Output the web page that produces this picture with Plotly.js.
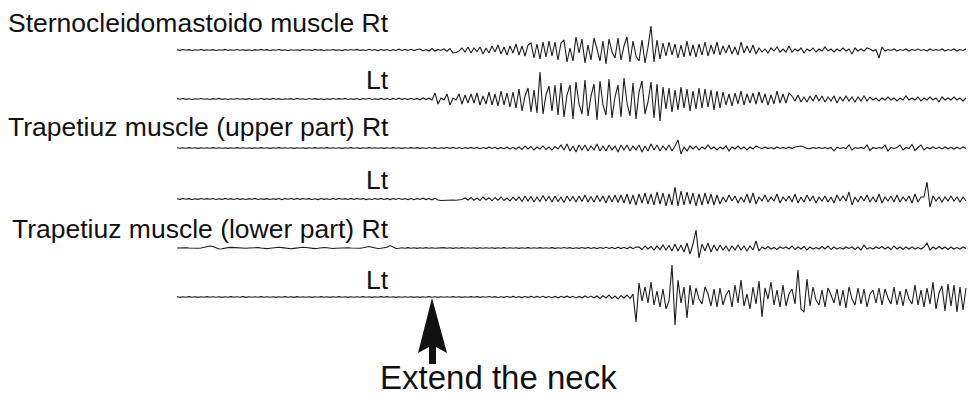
<!DOCTYPE html>
<html>
<head>
<meta charset="utf-8">
<script src="https://cdn.plot.ly/plotly-3.0.1.min.js"></script>
<style>html,body{margin:0;padding:0;background:#fff;}#chart{width:968px;height:399px;}</style>
</head>
<body>
<div id="chart"></div>
<script>
// ---- Data: EMG amplitude (deviation from each trace's baseline), one sample per time step ----
const channelLabels = [
  "Sternocleidomastoido muscle Rt",
  "Lt",
  "Trapetiuz muscle (upper part) Rt",
  "Lt",
  "Trapetiuz muscle (lower part) Rt",
  "Lt"
];
const eventLabel = "Extend the neck";
const eventSample = 85; // sample index where the neck is extended

const scmRt = [
0.3,-0.4,0.5,-0.2,0.4,-0.5,0.2,-0.3,0.5,-0.4,
0.2,-0.3,0.4,-0.5,0.3,-0.2,0.6,-0.4,0.3,-0.3,
0.5,-0.2,0.3,-0.4,0.2,-0.5,0.4,-0.3,0.6,-0.2,
0.4,-0.5,0.3,-0.3,0.5,-0.4,0.2,-0.6,0.3,-0.2,
0.3,-0.4,0.5,-0.3,0.2,-0.4,0.6,-0.3,0.4,-0.5,
0.2,-0.3,0.5,-0.4,0.3,-0.6,0.4,-0.2,0.5,-0.3,
0.6,-0.4,0.3,-0.5,0.7,-0.3,0.4,-0.6,0.5,-0.4,
0.5,-0.7,0.4,-0.5,0.8,-0.4,0.6,-0.5,0.7,-0.6,
0.5,
1,-0.8,0.5,-1,1.5,-1,0.6,-0.5,1,-1.2,
1.5,-3,-2.5,-1,2,-2,3,-3,2,-1.5,
3,-4,2,-3,4,-2,5,-4,3,-5,4,-3,6,-5,4,-6,5,
7,-8,6,-9,8,-7,9,-6,8,-10,7,
10,-12,2,-11,13,-3,11,-13,5,-10,12,1,-11,9,-14,11,-2,-8,12,-10,4,13,-12,9,-6,-11,10,-13,3,24,-12,10,-9,
7,-6,8,-5,6,-8,5,-7,9,-6,5,-7,6,-5,8,-6,5,-4,8,-5,
4,-3,5,-4,3,-5,8,-3,4,-3,5,-4,
2,-2,1,-3,2,-1,3,-2,1,-2,4,-2,1,-1,2,-3,1,-1,2,-2,1,-1,3,-1,1,-2,1,-1,2,-1,1,-4,2,-1,1,-1,2,
1,-1,0.5,-8,3,-1,0.5,-0.5,1,-1,0.5,-0.5,1,-1,0.5,-0.5,1,-0.5,0.5,-1,1,-0.5,0.5,-0.5,1,-1,0.5,-0.5,1,-1,0.5,-0.5,1
];

const scmLt = [
0.4,-0.3,0.5,-0.4,0.2,-0.5,0.3,-0.3,0.5,-0.2,
0.3,-0.5,0.4,-0.2,0.6,-0.4,0.3,-0.5,0.2,-0.3,
0.5,-0.3,0.2,-0.4,0.4,-0.6,0.3,-0.2,0.5,-0.4,
0.2,-0.4,0.6,-0.3,0.4,-0.5,0.2,-0.3,0.4,-0.5,
0.6,-0.2,0.3,-0.5,0.5,-0.3,0.4,-0.4,0.2,-0.6,
0.3,-0.4,0.5,-0.2,0.4,-0.3,0.6,-0.5,0.3,-0.4,
0.5,-0.6,0.4,-0.3,0.7,-0.5,0.3,-0.4,0.6,-0.5,
0.4,-0.7,0.6,-0.5,0.8,-0.4,0.5,-0.6,0.7,-0.5,
0.6,-0.8,1,-0.6,0.8,-1,
6,-5,1,-1,5,-6,1,-1,5,-5,4,-4,
5,-4,6,-6,3,-5,7,-6,5,-7,8,-6,6,-8,7,-9,
10,-12,3,11,-13,9,-14,27,-15,4,13,-12,14,-16,
16,-18,4,14,-20,17,-5,-15,19,-17,3,15,-21,18,-6,-16,20,-19,2,14,-18,21,-4,-17,16,-20,7,18,-15,-3,17,-19,15,-22,
12,-10,11,-13,9,-11,12,-9,10,-12,8,-10,11,-9,10,-8,9,-11,8,-9,
7,-6,5,-7,6,-5,8,-6,5,-4,6,-5,7,-4,5,-6,4,-5,8,-4,5,-4,6,
3,-2,4,-3,2,-3,3,-2,4,-2,3,-3,2,-2,3,-4,2,-2,3,-2,2,-3,2,-2,3,-2,
2,-1,1,-2,1,-1,2,-1,1,-2,1,-1,3,-1,1,-1,2,-2,1,-1,2,-1,1,-3,2,-1,1,-1,2,-1,1,-2,1
];

const trapUpperRt = [
0.2,-0.3,0.3,-0.2,0.4,-0.3,0.2,-0.4,0.3,-0.2,
0.3,-0.2,0.4,-0.3,0.2,-0.3,0.3,-0.4,0.2,-0.3,
0.4,-0.3,0.2,-0.2,0.3,-0.4,0.3,-0.2,0.4,-0.3,
0.2,-0.4,0.3,-0.3,0.4,-0.2,0.2,-0.3,0.3,-0.4,
0.3,-0.3,0.2,-0.4,0.3,-0.2,0.4,-0.3,0.2,-0.2,
0.4,-0.2,0.3,-0.3,0.2,-0.4,0.3,-0.3,0.4,-0.2,
0.3,-0.4,0.2,-0.3,0.4,-0.3,0.3,-0.2,0.2,-0.4,
0.2,-0.3,0.4,-0.2,0.3,-0.4,0.2,-0.3,0.4,-0.3,
0.4,-0.4,0.3,-0.5,0.5,-0.3,0.4,-0.5,0.3,-0.4,
0.5,-0.4,0.6,-0.5,0.4,-0.6,0.5,-0.4,0.6,-0.5,
0.6,-0.7,0.5,-0.6,0.8,-0.5,0.7,-0.8,0.6,-0.7,
0.8,-0.9,0.7,-1,
1,-1.5,2,-1,1.5,-2,1,-1,2,-1.5,1,-2,1.5,-1,
3,-2,4,-3,2,-4,3,-2,3,-3,2,-2,4,-3,2,-3,3,-2,2,-4,3,-2,3,-3,2,-2,3,-4,2,-3,4,-2,3,-3,2,-2,3,-3,2,
8,-6,
1,-3,2,-1,2,-2,1,-1,3,-1,1,-2,1,-1,2,-3,1,-1,2,-1,1,-2,1,-1,2,
0.5,-0.5,0.8,-0.6,0.5,-0.8,1,-0.5,0.6,-0.5,
0.8,-0.6,1,1.8,2,1,-0.5,-0.6,0.5,-0.4,
0.6,-0.5,0.4,-0.6,0.5,-3,0.8,-0.5,0.4,-0.6,
3,-2,0.5,-0.4,0.6,-0.5,3,-2.5,0.5,-0.6,
0.5,-0.4,3,-3,0.6,-0.5,0.4,3,-2,0.5,
-0.6,3.5,-2.5,0.5,3,-2,0.6,-0.8,1,-0.7,
0.8,-0.9,1,-0.8,0.7,-1,0.8,-0.9,1,-0.6
];

const trapUpperLt = [
0.3,-0.4,0.5,-0.3,0.4,-0.5,0.3,-0.4,0.5,-0.3,
0.4,-0.3,0.5,-0.5,0.3,-0.4,0.6,-0.3,0.4,-0.5,
0.5,-0.4,0.3,-0.5,0.4,-0.3,0.6,-0.5,0.3,-0.4,
0.4,-0.5,0.3,-0.4,0.5,-0.6,0.4,-0.3,0.5,-0.4,
0.6,-0.4,0.5,-0.3,0.4,-0.5,0.3,-0.6,0.5,-0.4,
0.3,-0.5,0.6,-0.4,0.5,-0.3,0.4,-0.5,0.6,-0.4,
0.5,-0.3,0.4,-0.6,0.3,-0.5,0.5,-0.4,0.6,-0.5,
0.4,-0.6,0.5,-0.4,0.7,-0.5,0.4,-0.6,0.5,-0.7,
0.6,-0.5,0.8,-0.6,0.5,-0.8,0.7,
-1,-1.5,-1.2,-1,-1.3,-1,-1.2,-0.8,-0.5,1,-1,1.5,-1.2,1,-1.5,2,-1,1.2,-1.8,1.5,-1.2,2,-1.5,1,-2,1.8,-1.4,
2,-2.5,3,-2,2.5,-3,2,-2.5,3.5,-2,2.5,-3,3,-2.5,2,-3.5,3,-2,2.5,-3,3,-2.5,4,-3,2.5,-3,3.5,-2.5,3,-4,3.5,-3,4,-3.5,
4,-4,5,-5,4,-6,5,-4,6,-5,5,-6,7,-5,6,-7,5,-6,12,-7,8,-6,7,-5,6,-7,5,-6,6,-5,5,-6,4,-5,
2,-3,4,-2,3,-4,2,-3,5,-4,
6,-5,2,-2,4,-3,2,-2,5,-4,
2,-2,3,-3,5,-4,2,-3,4,-2,
3,-4,2,-2,3,-3,2,-4,4,-2,
3,-2,7,-6,2,-3,3,-2,4,-3,
2,-3,5,-4,2,-2,3,-3,4,-3,
2,-2,3,-4,5,-3,2,
2,17,-8,
3,-2,2,-3,2,-2,3,-2,2,-3,2,-2
];

const trapLowerRt = [
0,0.3,0.5,0.3,0,-0.3,-0.5,-0.3,0,0.5,
1,2,1.5,0,-1,-0.8,0,0.4,0.6,0.3,
0,-0.3,-0.5,-0.2,0,0.3,0.5,0.4,0,-0.4,
-0.6,-0.3,0.2,0.6,0.8,0.4,0,-0.5,-0.8,-0.4,
0,0.5,0.8,0.5,0,-0.4,-0.6,-0.3,0.2,0.5,
0.3,-0.2,-0.5,-0.3,0,0.4,0.6,0.3,0,-0.3,
-0.5,-0.2,0.3,0.8,1.5,0.8,0,-0.5,-0.3,0.2,
0.8,2.5,1,-0.5,-0.3,
0.2,-0.3,0.4,-0.2,0.3,-0.4,0.2,-0.3,0.4,-0.2,
0.3,-0.2,0.1,-0.3,0.4,-0.2,0.3,-0.4,0.2,-0.3,
0.4,-0.3,0.2,-0.2,0.3,-0.4,0.2,-0.3,0.3,-0.2,
0.2,-0.4,0.3,-0.3,0.4,-0.2,0.3,-0.3,0.2,-0.4,
0.3,-0.2,0.4,-0.3,0.2,-0.3,0.4,-0.2,0.3,-0.3,
0.4,-0.4,0.3,-0.2,0.5,-0.3,0.4,-0.5,0.3,-0.4,
0.5,-0.4,0.6,-0.5,0.4,-0.6,0.5,-0.4,0.7,-0.5,
0.6,-0.7,0.8,-0.6,0.7,-0.8,1,-0.7,0.9,
1,-1.5,2,-1,1.5,-2,2,-1.5,3,-2,2.5,-3,4,-3,3,-4,5,
-6,4,18,-10,
4,-3,5,-4,3,-3,
3,-2,2,-3,2,-2,3,-2,2,-3,2,-2,7,-3,
1,-1,1.5,-1,0.5,-1.5,1,-0.5,1,-1,
2,-1.5,1,-1,1.5,-2,1,-1,0.5,-1,
1.5,-1,2,-1.5,1,-1,0.5,-1,1,-0.5,
1,-1.5,1,-2,3,-1,0.5,-1,1,-0.5,
1.5,-1,1,-1.5,2,-1,1,-1.5,1,-1,
1,-1,0.5,-1,1,5,-2,1,-1,1.5,
-1,1,-1.5,1,-1,0.5,-1,1,-0.5
];

const trapLowerLt = [
0.3,-0.4,0.2,-0.3,0.4,-0.2,0.3,-0.4,0.2,-0.3,
0.4,-0.3,0.3,-0.2,0.2,-0.4,0.3,-0.3,0.4,-0.2,
0.2,-0.3,0.4,-0.4,0.3,-0.2,0.2,-0.3,0.4,-0.3,
0.3,-0.2,0.3,-0.4,0.2,-0.3,0.4,-0.2,0.3,-0.4,
0.4,-0.3,0.2,-0.3,0.3,-0.4,0.2,-0.2,0.4,-0.3,
0.2,-0.4,0.3,-0.2,0.4,-0.3,0.3,-0.4,0.2,-0.2,
0.3,-0.3,0.4,-0.2,0.2,-0.4,0.3,-0.3,0.4,-0.2,
0.4,-0.2,0.2,-0.4,0.3,-0.3,0.2,-0.2,0.3,-0.4,
0.3,-0.4,0.3,-0.3,0.4,-0.2,0.3,-0.4,0.2,-0.3,
0.2,-0.3,0.4,-0.3,0.3,-0.4,0.2,-0.2,0.4,-0.3,
0.4,-0.4,0.3,-0.2,0.5,-0.3,0.4,-0.5,0.3,-0.4,
0.5,-0.4,0.6,-0.5,0.4,-0.6,0.5,-0.4,0.6,-0.5,
0.6,-0.5,0.7,-0.6,0.5,-0.7,0.6,-0.8,0.7,-0.6,
0.8,-0.6,0.7,-0.9,0.6,-0.8,1,-0.7,0.9,-0.8,
1,-1.5,1.2,-1,2,-1.5,1,-2,1.5,-1,2,-1.5,
3,-25,14,-4,10,-6,15,-8,6,-10,
8,-12,-4,32,-28,17,-6,10,-21,12,
-8,9,-2,-7,10,3,-9,8,-10,9,
-8,2,7,-10,12,-6,17,-9,3,-12,
10,-7,16,-20,9,-2,15,-8,7,-10,
12,-9,3,8,-7,27,-12,-15,18,-9,
10,-3,-8,7,-10,9,2,-6,8,-9,
7,-11,10,-2,-8,9,-7,8,-10,3,
7,-6,9,-8,8,-1,-7,10,-8,6,
-9,8,-2,-7,12,-8,7,-10,9,-7,
15,-12,4,11,-14,13,-9,12,-15,10,
-13,9
];

const series = [scmRt, scmLt, trapUpperRt, trapUpperLt, trapLowerRt, trapLowerLt];

// ---- Layout (pixel geometry of the figure) ----
const W = 968, H = 399;
const traceLeftPx = 177, pxPerSample = 3;
const baselinesPx = [50, 99, 148, 199, 248, 297];
const halfBandPx = 36;
const labelRightPx = 391;
const labelCentersPx = [23, 80, 127, 180, 229, 280];
const fx = p => p / W;
const fy = p => 1 - p / H;

const traces = series.map((s, k) => ({
  type: 'scatter', mode: 'lines', y: s,
  xaxis: 'x', yaxis: k === 0 ? 'y' : 'y' + (k + 1),
  line: {color: '#1c1c1c', width: 1.1},
  hoverinfo: 'skip', showlegend: false
}));

const layout = {
  width: W, height: H,
  margin: {l: 0, r: 0, t: 0, b: 0, pad: 0},
  paper_bgcolor: '#ffffff', plot_bgcolor: 'rgba(0,0,0,0)',
  showlegend: false,
  xaxis: {domain: [fx(traceLeftPx), 1], range: [0, (W - traceLeftPx) / pxPerSample],
          visible: false, fixedrange: true},
  annotations: [], shapes: []
};
baselinesPx.forEach((b, k) => {
  const key = k === 0 ? 'yaxis' : 'yaxis' + (k + 1);
  layout[key] = {domain: [fy(b + halfBandPx), fy(b - halfBandPx)], range: [-halfBandPx, halfBandPx],
                 visible: false, fixedrange: true, anchor: 'x'};
});
channelLabels.forEach((t, k) => {
  layout.annotations.push({text: t, xref: 'paper', yref: 'paper', x: fx(labelRightPx), y: fy(labelCentersPx[k]),
    xanchor: 'right', yanchor: 'middle', showarrow: false,
    font: {family: 'Liberation Sans, Arial, sans-serif', size: 26.5, color: '#111111'}});
});
layout.annotations.push({text: eventLabel, xref: 'paper', yref: 'paper', x: fx(498), y: fy(377),
  xanchor: 'center', yanchor: 'middle', showarrow: false,
  font: {family: 'Liberation Sans, Arial, sans-serif', size: 33, color: '#111111'}});

// arrow pointing at the event sample on the last trace
const ax = traceLeftPx + eventSample * pxPerSample;
const pts = [[ax, 298], [ax + 15, 353], [ax + 4, 347], [ax + 4, 364], [ax - 3, 364], [ax - 3, 347], [ax - 14, 353]];
layout.shapes.push({type: 'path', xref: 'paper', yref: 'paper',
  path: 'M' + pts.map(p => fx(p[0]) + ',' + fy(p[1])).join(' L') + ' Z',
  fillcolor: '#111111', line: {width: 0}});

Plotly.newPlot('chart', traces, layout, {staticPlot: true, displayModeBar: false});
</script>
</body>
</html>
